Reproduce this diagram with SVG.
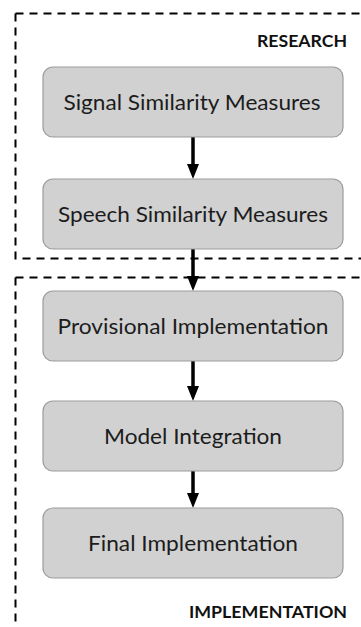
<svg xmlns="http://www.w3.org/2000/svg" width="361" height="627" viewBox="0 0 361 627">
  <style>
    .zone { fill: none; stroke: #000; stroke-width: 2; stroke-dasharray: 8 6; }
    .box { fill: #d1d1d1; stroke: #9c9c9c; stroke-width: 1.2; }
    .label { font-family: "Lato", "Open Sans", "Liberation Sans", sans-serif; font-size: 21.5px; fill: #1c1c1c; text-anchor: middle; }
    .zone-title { font-family: "Lato", "Open Sans", "Liberation Sans", sans-serif; font-weight: bold; font-size: 17px; fill: #111; text-anchor: end; }
    .link { stroke: #000; stroke-width: 3.5; fill: none; marker-end: url(#head); }
  </style>
  <defs>
    <marker id="head" markerUnits="userSpaceOnUse" markerWidth="15" markerHeight="12" refX="0" refY="6" orient="auto" viewBox="0 0 15 12">
      <path d="M0,0 L15,6 L0,12 z" fill="#000"/>
    </marker>
  </defs>
  <rect width="361" height="627" fill="#fff"/>

  <!-- dashed phase zones -->
  <g id="zone-research">
    <path class="zone" d="M15.5,13.5 H370"/>
    <path class="zone" d="M15.5,13.5 V258.5 H370"/>
    <text class="zone-title" x="347" y="46.5" textLength="90" lengthAdjust="spacingAndGlyphs">RESEARCH</text>
  </g>
  <g id="zone-implementation">
    <path class="zone" d="M15.5,277.5 H370"/>
    <path class="zone" d="M15.5,277.5 V640"/>
    <text class="zone-title" x="347" y="618.3" textLength="158" lengthAdjust="spacingAndGlyphs">IMPLEMENTATION</text>
  </g>

  <!-- connectors -->
  <g id="connectors">
    <line class="link" x1="193" y1="137" x2="193" y2="164"/>
    <line class="link" x1="193" y1="249" x2="193" y2="276"/>
    <line class="link" x1="193" y1="361" x2="193" y2="386"/>
    <line class="link" x1="193" y1="471" x2="193" y2="493"/>
  </g>

  <!-- process steps -->
  <g id="signal-similarity">
    <rect class="box" x="43" y="67" width="300" height="70" rx="10"/>
    <text class="label" x="192" y="110" textLength="257" lengthAdjust="spacingAndGlyphs">Signal Similarity Measures</text>
  </g>
  <g id="speech-similarity">
    <rect class="box" x="43" y="179" width="300" height="70" rx="10"/>
    <text class="label" x="193" y="222" textLength="270" lengthAdjust="spacingAndGlyphs">Speech Similarity Measures</text>
  </g>
  <g id="provisional-implementation">
    <rect class="box" x="43" y="291" width="300" height="70" rx="10"/>
    <text class="label" x="193" y="334" textLength="271" lengthAdjust="spacingAndGlyphs">Provisional Implementation</text>
  </g>
  <g id="model-integration">
    <rect class="box" x="43" y="401" width="300" height="70" rx="10"/>
    <text class="label" x="193" y="444" textLength="178" lengthAdjust="spacingAndGlyphs">Model Integration</text>
  </g>
  <g id="final-implementation">
    <rect class="box" x="43" y="508" width="300" height="70" rx="10"/>
    <text class="label" x="193" y="551" textLength="210" lengthAdjust="spacingAndGlyphs">Final Implementation</text>
  </g>
</svg>
